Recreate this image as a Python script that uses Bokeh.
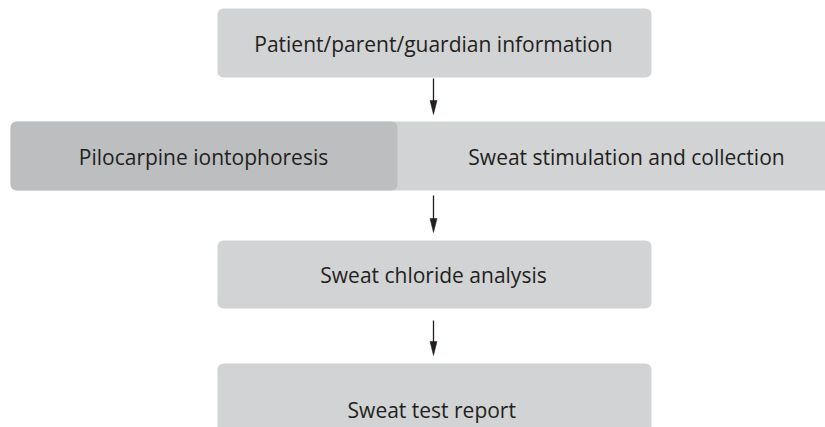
from bokeh.plotting import figure
from bokeh.models import Range1d
from bokeh.core.properties import value
from bokeh.embed import file_html
from bokeh.resources import INLINE

# --- content ---
labels = ["Patient/parent/guardian information",
          "Pilocarpine iontophoresis",
          "Sweat stimulation and collection",
          "Sweat chloride analysis",
          "Sweat  test report"]

# --- layout (page pixel coordinates) ---
box_left = [217, 10, 10, 217, 217]
box_right = [651, 840, 397, 651, 651]
box_top = [8, 121, 121, 240, 363]
box_bottom = [77, 190, 190, 308, 440]
box_color = ["#d1d3d4", "#d1d3d4", "#bcbec0", "#d1d3d4", "#d1d3d4"]

text_x = [433, 203, 626, 433, 434]
text_y = [43, 156, 156, 274, 409]

arrow_x = [433, 433, 433]
arrow_start = [78, 195, 320]
arrow_tip = [114, 232, 355]

W, H = 825, 427
p = figure(width=W, height=H, output_backend="svg", toolbar_location=None,
           x_range=Range1d(0, W), y_range=Range1d(H, 0),
           min_border=0)
p.axis.visible = False
p.grid.visible = False
p.outline_line_color = None
p.background_fill_color = "white"
p.border_fill_color = "white"

p.quad(left=box_left, right=box_right, top=box_top, bottom=box_bottom,
       fill_color=box_color, line_color=None, border_radius=6)

p.text(x=text_x, y=text_y, text=labels, text_align="center",
       text_baseline="middle", text_font=value("Open Sans"),
       text_font_size="21px", text_color="#231f20")

head_len = 14
head_half = 3.5
p.segment(x0=arrow_x, y0=arrow_start, x1=arrow_x,
          y1=[t - head_len + 1 for t in arrow_tip],
          line_color="#231f20", line_width=1.3)
xs = [[x - head_half, x + head_half, x] for x in arrow_x]
ys = [[t - head_len, t - head_len, t] for t in arrow_tip]
p.patches(xs=xs, ys=ys, fill_color="#231f20", line_color="#231f20", line_width=0.5)

open("out.html", "w").write(file_html(p, INLINE))
